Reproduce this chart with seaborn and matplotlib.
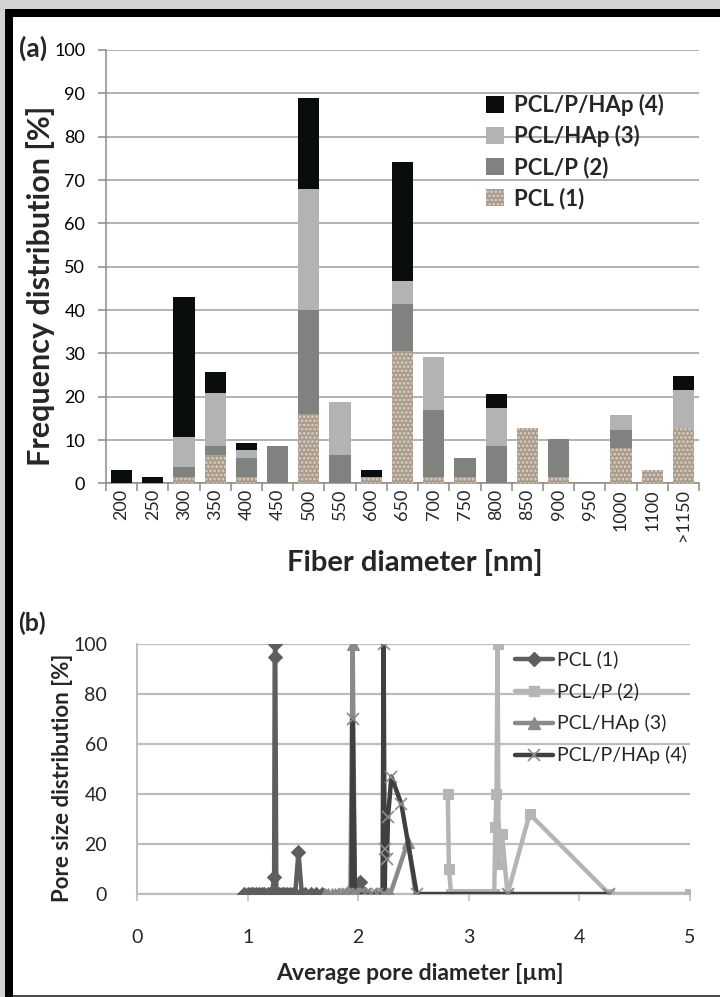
import numpy as np
import pandas as pd
import matplotlib
matplotlib.use("Agg")
import matplotlib.pyplot as plt
from matplotlib.patches import Rectangle, Patch
from matplotlib.lines import Line2D
import seaborn as sns

# ---------------- data (a) ----------------
categories = ["200", "250", "300", "350", "400", "450", "500", "550", "600", "650",
              "700", "750", "800", "850", "900", "950", "1000", "1100", ">1150"]
pcl       = [0, 0, 1.5, 6.6, 1.5, 0, 16.1, 0, 1.5, 30.6, 1.5, 1.5, 0, 12.9, 1.5, 0, 8.2, 3.1, 12.9]
pcl_p     = [0, 0, 2.4, 2.0, 4.4, 8.7, 23.9, 6.6, 0, 10.9, 15.4, 4.4, 8.7, 0, 8.8, 0, 4.2, 0, 0]
pcl_hap   = [0, 0, 6.9, 12.2, 1.9, 0, 28.0, 12.1, 0, 5.3, 12.2, 0, 8.8, 0, 0, 0, 3.5, 0, 8.7]
pcl_p_hap = [3.1, 1.5, 32.2, 5.0, 1.5, 0, 21.0, 0, 1.7, 27.4, 0, 0, 3.2, 0, 0, 0, 0, 0, 3.3]

# ---------------- data (b) ----------------
pcl1_x = [0.97, 1.00, 1.03, 1.05, 1.08, 1.10, 1.13, 1.15, 1.18, 1.20, 1.22, 1.24, 1.245, 1.25, 1.26,
          1.28, 1.31, 1.33, 1.36, 1.38, 1.41, 1.43, 1.46, 1.49, 1.52, 1.57, 1.62, 1.67, 1.98, 2.02, 2.06]
pcl1_y = [0, 0, 0, 0, 0, 0, 0, 0, 0, 0, 0, 7, 95, 100, 0,
          0, 0, 0, 0, 0, 0, 0, 17, 0, 0, 0, 0, 0, 0, 5, 0]
pclp2_x = [2.81, 2.82, 2.84, 2.90, 2.95, 3.00, 3.05, 3.10, 3.15, 3.20, 3.23, 3.24, 3.25, 3.26,
           3.27, 3.30, 3.35, 3.55, 4.27, 5.00]
pclp2_y = [40, 10, 0, 0, 0, 0, 0, 0, 0, 0, 0, 27, 40, 100, 12, 24, 0, 32, 0, 0]
pclhap3_x = [1.70, 1.73, 1.76, 1.79, 1.82, 1.85, 1.88, 1.91, 1.93, 1.95, 1.97, 2.00, 2.05,
             2.10, 2.16, 2.22, 2.29, 2.45, 2.52]
pclhap3_y = [0, 0, 0, 0, 0, 0, 0, 0, 3, 100, 0, 0, 0, 0, 0, 0, 0, 21, 0]
pclphap4_x = [1.88, 1.91, 1.94, 1.95, 1.97, 2.00, 2.06, 2.12, 2.17, 2.22, 2.23, 2.24, 2.245,
              2.26, 2.27, 2.30, 2.39, 2.53, 3.35, 4.27]
pclphap4_y = [0, 0, 0, 70, 0, 0, 0, 0, 0, 0, 100, 0, 18, 14, 31, 47, 36, 0, 0, 0]

series_a = ["PCL (1)", "PCL/P (2)", "PCL/HAp (3)", "PCL/P/HAp (4)"]
series_b = ["PCL (1)", "PCL/P (2)", "PCL/HAp (3)", "PCL/P/HAp (4)"]

col_black = "#0a0d0d"
col_light = "#b3b3b3"
col_mid = "#808280"
col_pcl = "#a99b8c"
col_pcl_hatch = "#d9cfc4"

sns.set_style("white")
plt.rcParams["font.family"] = ["Lato", "DejaVu Sans"]
plt.rcParams["hatch.linewidth"] = 1.3

W, H = 720, 997
fig = plt.figure(figsize=(7.2, 9.97), dpi=100, facecolor="#d3d3d3")


def fx(px):
    return px / W


def fy(py):
    return 1 - py / H


fig.patches.append(Rectangle((fx(5), 0), 1, fy(9), transform=fig.transFigure,
                             facecolor="black", edgecolor="none", zorder=-3))
fig.patches.append(Rectangle((fx(13), fy(995)), 1, fy(17) - fy(995), transform=fig.transFigure,
                             facecolor="white", edgecolor="none", zorder=-2))
fig.patches.append(Rectangle((fx(13), 0), 1, fy(995), transform=fig.transFigure,
                             facecolor="#4a4a4a", edgecolor="none", zorder=-2))

# ================= (a) stacked bars =================
df = pd.DataFrame({"cat": categories, "p1": pcl, "p2": pcl_p, "p3": pcl_hap, "p4": pcl_p_hap})
df["c1"] = df["p1"]
df["c2"] = df["c1"] + df["p2"]
df["c3"] = df["c2"] + df["p3"]
df["c4"] = df["c3"] + df["p4"]

ax1 = fig.add_axes([fx(106), fy(483.5), fx(699) - fx(106), fy(50) - fy(483.5)])
ax1.set_facecolor("none")
for col, c in [("c4", col_black), ("c3", col_light), ("c2", col_mid)]:
    sns.barplot(data=df, x="cat", y=col, color=c, saturation=1, width=0.68,
                edgecolor="none", linewidth=0, ax=ax1, zorder=3)
sns.barplot(data=df, x="cat", y="c1", color=col_pcl, saturation=1, width=0.68,
            edgecolor=col_pcl_hatch, linewidth=0, hatch="....", ax=ax1, zorder=3)

ax1.set_xlim(-0.5, len(categories) - 0.5)
ax1.set_ylim(0, 100)
ax1.set_yticks(np.arange(0, 101, 10))
ax1.yaxis.grid(True, color="#9c9c9c", lw=1.1)
ax1.set_axisbelow(True)
for s in ["top", "right"]:
    ax1.spines[s].set_visible(False)
for s in ["left", "bottom"]:
    ax1.spines[s].set_color("#8a8a8a")
    ax1.spines[s].set_linewidth(1.1)
ax1.tick_params(axis="y", which="major", left=True, length=6, width=1.1, color="#8a8a8a",
                labelsize=13, pad=9, labelcolor="black")
ax1.set_xticks(range(len(categories)))
ax1.set_xticklabels(categories, rotation=90, fontsize=13)
ax1.tick_params(axis="x", which="major", length=0, pad=4)
ax1.set_xticks(np.arange(-0.5, len(categories), 1), minor=True)
ax1.tick_params(axis="x", which="minor", bottom=True, length=6, width=1.1, color="#8a8a8a")
ax1.set_xlabel("Fiber diameter [nm]", fontsize=21, fontweight="bold")
ax1.xaxis.set_label_coords(fx(415), fy(563), transform=fig.transFigure)
ax1.xaxis.label.set_va("center")
ax1.set_ylabel("Frequency distribution [%]", fontsize=22, fontweight="bold")
ax1.yaxis.set_label_coords(fx(41), fy(286), transform=fig.transFigure)
ax1.yaxis.label.set_va("center")
fig.text(fx(19), fy(48), "(a)", fontsize=19, fontweight="bold", va="center", ha="left")

handles_a = [Patch(facecolor=col_black, edgecolor="none"),
             Patch(facecolor=col_light, edgecolor="none"),
             Patch(facecolor=col_mid, edgecolor="none"),
             Patch(facecolor=col_pcl, edgecolor=col_pcl_hatch, hatch="....", linewidth=0)]
labels_a = list(reversed(series_a))
ax1.legend(handles_a, labels_a, loc="upper left", bbox_to_anchor=(fx(466), fy(74)),
           bbox_transform=fig.transFigure, frameon=False, handlelength=0.8, handleheight=0.8,
           handletextpad=0.45, labelspacing=0.42, prop={"weight": "bold", "size": 16})

# ================= (b) line chart =================
ax2 = fig.add_axes([fx(137), fy(894), fx(690) - fx(137), fy(644) - fy(894)])
ax2.set_facecolor("none")
c1, c2, c3, c4 = "#5e5e5e", "#b5b5b5", "#8a8a8a", "#404040"
sns.lineplot(x=pcl1_x, y=pcl1_y, sort=False, estimator=None, color=c1, lw=3.2,
             marker="D", markersize=7, markeredgecolor=c1, ax=ax2, zorder=3)
sns.lineplot(x=pclp2_x, y=pclp2_y, sort=False, estimator=None, color=c2, lw=3.2,
             marker="s", markersize=7.5, markeredgecolor=c2, ax=ax2, zorder=4)
sns.lineplot(x=pclhap3_x, y=pclhap3_y, sort=False, estimator=None, color=c3, lw=3.2,
             marker="^", markersize=8, markeredgecolor=c3, ax=ax2, zorder=5)
sns.lineplot(x=pclphap4_x, y=pclphap4_y, sort=False, estimator=None, color=c4, lw=3.2,
             marker="x", markersize=9, markeredgecolor="#8c8c8c", markeredgewidth=1.2, ax=ax2, zorder=6)

ax2.set_xlim(0, 5)
ax2.set_ylim(0, 100)
ax2.set_yticks(np.arange(0, 101, 20))
ax2.set_xticks(np.arange(0, 6, 1))
ax2.yaxis.grid(True, color="#bdbdbd", lw=1.6)
ax2.set_axisbelow(True)
for s in ["top", "right"]:
    ax2.spines[s].set_visible(False)
ax2.spines["left"].set_color("#bdbdbd")
ax2.spines["left"].set_linewidth(1.4)
ax2.spines["bottom"].set_color("#bdbdbd")
ax2.spines["bottom"].set_linewidth(1.6)
ax2.tick_params(axis="y", left=False, labelsize=14, pad=18)
ax2.tick_params(axis="x", bottom=True, length=5, width=1.2, color="#bdbdbd", labelsize=14, pad=20)
ax2.set_xlabel("Average pore diameter [µm]", fontsize=16.5, fontweight="bold")
ax2.xaxis.set_label_coords(fx(420), fy(973), transform=fig.transFigure)
ax2.xaxis.label.set_va("center")
ax2.set_ylabel("Pore size distribution [%]", fontsize=16, fontweight="bold")
ax2.yaxis.set_label_coords(fx(63), fy(778), transform=fig.transFigure)
ax2.yaxis.label.set_va("center")
fig.text(fx(18), fy(623), "(b)", fontsize=18, fontweight="bold", va="center", ha="left")

handles_b = [Line2D([], [], color=c1, lw=3.2, marker="D", markersize=7),
             Line2D([], [], color=c2, lw=3.2, marker="s", markersize=7.5),
             Line2D([], [], color=c3, lw=3.2, marker="^", markersize=8),
             Line2D([], [], color=c4, lw=3.2, marker="x", markersize=9,
                    markeredgecolor="#8c8c8c", markeredgewidth=1.2)]
ax2.legend(handles_b, series_b, loc="upper left", bbox_to_anchor=(fx(497), fy(633)),
           bbox_transform=fig.transFigure, frameon=False, handlelength=2.0,
           handletextpad=0.2, labelspacing=0.72, prop={"size": 14})

fig.savefig("out.png", dpi=100, facecolor=fig.get_facecolor())
